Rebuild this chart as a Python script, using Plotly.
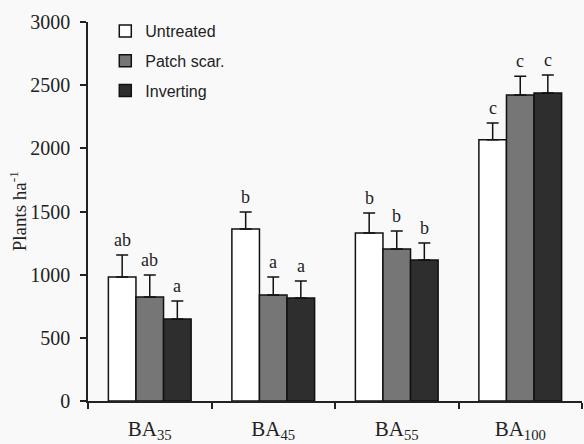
import plotly.graph_objects as go

categories = ["BA<sub>35</sub>", "BA<sub>45</sub>", "BA<sub>55</sub>", "BA<sub>100</sub>"]
series_names = ["Untreated", "Patch scar.", "Inverting"]
untreated = [982, 1362, 1330, 2067]
patch_scar = [823, 839, 1203, 2422]
inverting = [649, 815, 1116, 2438]
err_untreated = [174, 134, 158, 134]
err_patch = [175, 143, 143, 148]
err_inverting = [143, 135, 135, 142]
letters_untreated = ["ab", "b", "b", "c"]
letters_patch = ["ab", "a", "b", "c"]
letters_inverting = ["a", "a", "b", "c"]
y_ticks = [0, 500, 1000, 1500, 2000, 2500, 3000]
y_title = "Plants ha<sup>-1</sup>"

values = [untreated, patch_scar, inverting]
errors = [err_untreated, err_patch, err_inverting]
letters = [letters_untreated, letters_patch, letters_inverting]
colors = ["#ffffff", "#767676", "#2e2e2e"]

bargap = 0.33

fig = go.Figure()
for j in range(3):
    fig.add_trace(go.Bar(
        x=categories, y=values[j], name=series_names[j], legendgroup=series_names[j],
        marker=dict(color=colors[j], line=dict(color="#111111", width=1.5)),
        error_y=dict(type="data", array=errors[j], arrayminus=[0]*4, symmetric=False,
                     color="#111111", thickness=1.5, width=6),
    ))

bw = (1 - bargap) / 3
annotations = []
for j in range(3):
    for i in range(len(categories)):
        annotations.append(dict(
            x=i + (j - 1) * bw, y=values[j][i] + errors[j][i], text=letters[j][i],
            showarrow=False, yanchor="bottom", yshift=3,
            font=dict(family="Liberation Serif", size=18, color="#222222"),
        ))
annotations.append(dict(
    text=y_title, xref="paper", yref="paper", x=-0.142, y=0.5,
    textangle=-90, showarrow=False, xanchor="center", yanchor="middle",
    font=dict(family="Liberation Serif", size=19, color="#222222"),
))

fig.update_layout(
    width=584, height=444,
    margin=dict(l=88, r=2, t=22, b=43),
    paper_bgcolor="#f9f9f9", plot_bgcolor="#f9f9f9",
    barmode="group", bargap=bargap, bargroupgap=0,
    showlegend=True,
    legend=dict(x=0.035, y=1.021, xanchor="left", yanchor="top",
                bgcolor="rgba(0,0,0,0)", tracegroupgap=6,
                font=dict(family="Liberation Sans", size=16, color="#222222")),
    annotations=annotations,
    font=dict(family="Liberation Serif", color="#222222"),
)
fig.update_xaxes(
    type="category", tickson="boundaries", range=[-0.5, 3.5], automargin=False,
    showline=True, linecolor="#222222", linewidth=1.5,
    ticks="outside", ticklen=6, tickwidth=1.5, tickcolor="#222222",
    ticklabelstandoff=8,
    showgrid=False, zeroline=False,
    tickfont=dict(family="Liberation Serif", size=21, color="#222222"),
)
fig.update_yaxes(
    range=[0, 3000], tickvals=y_ticks, automargin=False,
    showline=True, linecolor="#222222", linewidth=1.5,
    ticks="outside", ticklen=6, tickwidth=1.5, tickcolor="#222222",
    ticklabelstandoff=6,
    showgrid=False, zeroline=False,
    tickfont=dict(family="Liberation Serif", size=20, color="#222222"),
)

fig.write_html("out.html")
